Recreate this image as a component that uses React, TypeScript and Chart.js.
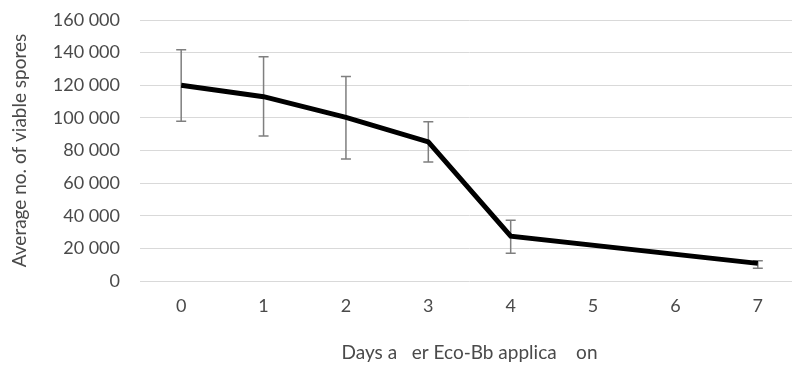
import React, { useEffect, useRef } from "react";
import { Chart, registerables } from "chart.js";

Chart.register(...registerables);

const categories = ["0", "1", "2", "3", "4", "5", "6", "7"];
const meanSpores: (number | null)[] = [120000, 113000, 100300, 85300, 27500, null, null, 10800];
const errorHigh: (number | null)[] = [141800, 137500, 125300, 97700, 37200, null, null, 12400];
const errorLow: (number | null)[] = [97900, 88900, 74800, 72900, 17000, null, null, 7800];
const yTicks = [0, 20000, 40000, 60000, 80000, 100000, 120000, 140000, 160000];
const xTitle = "Days a   er Eco-Bb applica    on";
const yTitle = "Average no. of viable spores";

const FONT = "Lato, 'Open Sans', sans-serif";
const TEXT = "#4a4a4a";

const errorBarPlugin = {
  id: "errorBars",
  beforeDatasetsDraw(chart: any) {
    const { ctx, scales } = chart;
    const xs = scales.x;
    const ys = scales.y;
    ctx.save();
    ctx.strokeStyle = "#7f7f7f";
    ctx.lineWidth = 1.5;
    for (let i = 0; i < categories.length; i++) {
      const hi = errorHigh[i];
      const lo = errorLow[i];
      if (hi == null || lo == null) continue;
      const x = xs.getPixelForValue(i);
      const yh = ys.getPixelForValue(hi);
      const yl = ys.getPixelForValue(lo);
      ctx.beginPath();
      ctx.moveTo(x, yh);
      ctx.lineTo(x, yl);
      ctx.moveTo(x - 5, yh);
      ctx.lineTo(x + 5, yh);
      ctx.moveTo(x - 5, yl);
      ctx.lineTo(x + 5, yl);
      ctx.stroke();
    }
    ctx.restore();
  },
};

export default function App() {
  const ref = useRef<HTMLCanvasElement | null>(null);
  useEffect(() => {
    document.body.style.margin = "0";
    document.body.style.overflow = "hidden";
    if (!ref.current) return;
    const chart = new Chart(ref.current, {
      type: "line",
      data: {
        labels: categories,
        datasets: [
          {
            data: meanSpores,
            borderColor: "#000000",
            borderWidth: 5,
            pointRadius: 0,
            spanGaps: true,
            tension: 0,
          },
        ],
      },
      options: {
        animation: false,
        responsive: false,
        maintainAspectRatio: false,
        layout: { padding: { top: 20, left: 0, right: 1, bottom: 0 } },
        plugins: { legend: { display: false }, tooltip: { enabled: false } },
        scales: {
          x: {
            type: "category",
            offset: true,
            grid: { display: false, drawTicks: false },
            border: { display: false },
            ticks: { color: TEXT, font: { family: FONT, size: 18 }, padding: 14, maxRotation: 0 },
            title: {
              display: true,
              text: xTitle,
              color: TEXT,
              font: { family: FONT, size: 19 },
              padding: { top: 0, bottom: 10 },
            },
            afterFit(scale: any) {
              scale.height = 93;
            },
          },
          y: {
            min: 0,
            max: 160000,
            grid: { color: "#d9d9d9", lineWidth: 1, drawTicks: false },
            border: { display: false },
            afterBuildTicks(scale: any) {
              scale.ticks = yTicks.map((v) => ({ value: v }));
            },
            ticks: {
              color: TEXT,
              font: { family: FONT, size: 18 },
              padding: 20,
              callback: (v: any) => String(v).replace(/\B(?=(\d{3})+(?!\d))/g, " "),
            },
            title: {
              display: true,
              text: yTitle,
              color: TEXT,
              font: { family: FONT, size: 19 },
              padding: { top: 8, bottom: 0 },
            },
            afterFit(scale: any) {
              scale.width = 140;
              scale.paddingTop = 0;
              scale.paddingBottom = 0;
            },
          },
        },
      },
      plugins: [errorBarPlugin],
    });
    return () => chart.destroy();
  }, []);
  return (
    <div style={{ position: "fixed", left: 0, top: 0, width: 800, height: 374 }}>
      <canvas ref={ref} width={800} height={374} style={{ width: 800, height: 374 }} />
    </div>
  );
}
